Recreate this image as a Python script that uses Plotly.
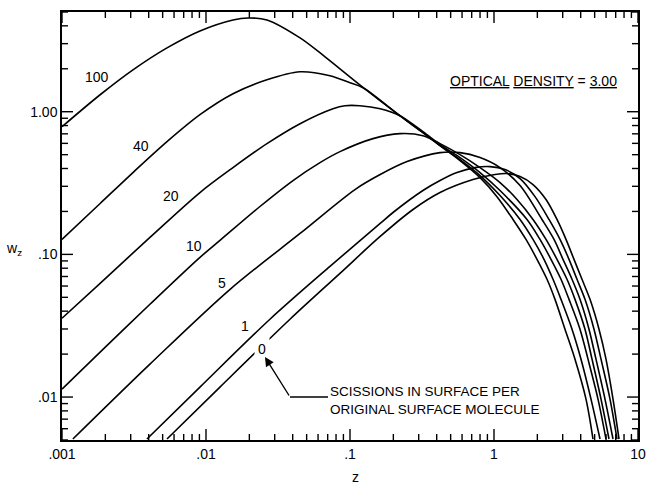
import plotly.graph_objects as go

# ---- data (z, w_z) ----
labels = ["100", "40", "20", "10", "5", "1", "0"]

z_100 = [0.001, 0.00184, 0.00311, 0.00536, 0.00908, 0.0154, 0.0196, 0.0265, 0.0450, 0.0671, 0.117, 0.222,
         0.321, 0.422, 0.581, 0.800, 1.049, 1.355, 1.668, 1.989, 2.334, 2.652, 3.112, 3.652, 4.354, 4.870]
w_100 = [0.785, 1.315, 1.966, 2.803, 3.685, 4.400, 4.543, 4.400, 3.292, 2.425, 1.544, 0.938,
         0.713, 0.578, 0.454, 0.345, 0.254, 0.1757, 0.1273, 0.0923, 0.0669, 0.0484, 0.0299, 0.01843, 0.00968, 0.00508]

z_40 = [0.001, 0.00184, 0.00311, 0.00536, 0.00908, 0.0154, 0.0265, 0.0450, 0.0726, 0.100, 0.123, 0.222,
        0.321, 0.422, 0.581, 0.800, 1.101, 1.517, 1.866, 2.224, 2.569, 2.919, 3.481, 4.020, 4.717, 5.446]
w_40 = [0.1273, 0.2273, 0.3746, 0.6168, 0.953, 1.336, 1.674, 1.905, 1.785, 1.595, 1.472, 0.938,
        0.713, 0.578, 0.4616, 0.3568, 0.2586, 0.1757, 0.1273, 0.0923, 0.0669, 0.0484, 0.0299, 0.01843, 0.00968, 0.00508]

z_20 = [0.001, 0.00184, 0.00408, 0.00908, 0.0154, 0.0265, 0.0450, 0.0762, 0.0923, 0.117, 0.162, 0.222,
        0.321, 0.422, 0.581, 0.800, 1.101, 1.695, 2.086, 2.488, 2.919, 3.318, 3.956, 4.496, 5.275, 5.995]
w_20 = [0.03568, 0.0627, 0.1315, 0.2714, 0.4059, 0.5974, 0.8243, 1.0495, 1.1016, 1.1016, 1.0495, 0.938,
        0.7245, 0.5876, 0.4769, 0.3746, 0.2803, 0.1757, 0.1273, 0.0923, 0.0669, 0.0484, 0.0299, 0.01843, 0.00968, 0.00508]

z_10 = [0.001, 0.00184, 0.00408, 0.00908, 0.0125, 0.0237, 0.0402, 0.0619, 0.0852, 0.1445, 0.222, 0.321,
        0.422, 0.581, 0.800, 1.101, 1.445, 1.866, 2.297, 2.738, 3.213, 3.652, 4.284, 4.793, 5.535, 6.290]
w_10 = [0.01137, 0.02064, 0.0447, 0.0953, 0.1253, 0.2166, 0.3293, 0.4397, 0.5251, 0.6476, 0.7018, 0.6794,
        0.5974, 0.5003, 0.4059, 0.3188, 0.2424, 0.1757, 0.1273, 0.0923, 0.0669, 0.0484, 0.0299, 0.01843, 0.00968, 0.00508]

z_5 = [0.00119, 0.00408, 0.0147, 0.0450, 0.1083, 0.162, 0.249, 0.422, 0.581, 0.800, 1.101, 1.517,
       2.154, 2.610, 3.014, 3.481, 3.956, 4.568, 5.109, 5.899, 6.706]
w_5 = [0.00508, 0.01701, 0.0569, 0.1402, 0.2848, 0.3626, 0.4470, 0.5168, 0.5168, 0.4769, 0.4059, 0.3038,
       0.1757, 0.1273, 0.0923, 0.0669, 0.0484, 0.0299, 0.01843, 0.00968, 0.00508]

z_1 = [0.00389, 0.00908, 0.0278, 0.0726, 0.162, 0.199, 0.321, 0.422, 0.553, 0.738, 0.938, 1.192,
       1.517, 1.927, 2.410, 2.873, 3.318, 3.770, 4.284, 4.948, 5.535, 6.391, 7.149]
w_1 = [0.00508, 0.01175, 0.03511, 0.0824, 0.1647, 0.1966, 0.2803, 0.3293, 0.3746, 0.4059, 0.4124, 0.3930,
       0.3400, 0.254, 0.1757, 0.1273, 0.0923, 0.0669, 0.0484, 0.0299, 0.01843, 0.00968, 0.00508]

z_0 = [0.00536, 0.0125, 0.0383, 0.0852, 0.162, 0.274, 0.422, 0.715, 1.016, 1.231, 1.517, 1.866,
       2.297, 2.738, 3.162, 3.594, 4.084, 4.642, 5.361, 5.995, 6.706, 7.382]
w_0 = [0.00508, 0.01175, 0.03511, 0.0736, 0.1336, 0.2064, 0.2714, 0.3346, 0.3626, 0.3686, 0.3511, 0.3087,
       0.2424, 0.1757, 0.1273, 0.0923, 0.0669, 0.0484, 0.0299, 0.01843, 0.00968, 0.00508]

x_tickvals = [0.001, 0.01, 0.1, 1, 10]
x_ticktext = [".001", ".01", ".1", "1", "10"]
y_tickvals = [0.01, 0.1, 1]
y_ticktext = [".01", ".10", "1.00"]
minor_mantissas = [2, 3, 4, 5, 6, 7, 8, 9]
x_decades = [0.001, 0.01, 0.1, 1]
y_decades = [0.001, 0.01, 0.1, 1]

series = [(z_100, w_100), (z_40, w_40), (z_20, w_20), (z_10, w_10), (z_5, w_5), (z_1, w_1), (z_0, w_0)]

FONT = "Liberation Sans, Arial, sans-serif"
X_RANGE = [-3, 1]
Y_RANGE = [-2.30103, 0.69897]

L, R, T, B = 62, 9, 12, 44
W, H = 647, 484
PW, PH = W - L - R, H - T - B

fig = go.Figure()
for lab, (zs, ws) in zip(labels, series):
    fig.add_trace(go.Scatter(x=zs, y=ws, mode="lines", name=lab,
                             line=dict(color="black", width=1.6, shape="spline", smoothing=0.9),
                             showlegend=False, hoverinfo="skip"))

# ---- inside tick marks on all four sides, built from the tick values and axis ranges ----
x_minor = [m * d for d in x_decades for m in minor_mantissas]
y_minor = [m * d for d in y_decades for m in minor_mantissas]
x_lo, x_hi = 10 ** X_RANGE[0], 10 ** X_RANGE[1]
y_lo, y_hi = 10 ** Y_RANGE[0], 10 ** Y_RANGE[1]
x_dec_per_px = (X_RANGE[1] - X_RANGE[0]) / PW
y_dec_per_px = (Y_RANGE[1] - Y_RANGE[0]) / PH
tx, ty = [], []
for v, ln in [(v, 11) for v in x_tickvals] + [(v, 6) for v in x_minor]:
    f = 10 ** (ln * y_dec_per_px)
    tx += [v, v, None, v, v, None]
    ty += [y_lo, y_lo * f, None, y_hi, y_hi / f, None]
for v, ln in [(v, 11) for v in y_tickvals] + [(v, 6) for v in y_minor]:
    f = 10 ** (ln * x_dec_per_px)
    tx += [x_lo, x_lo * f, None, x_hi, x_hi / f, None]
    ty += [v, v, None, v, v, None]
fig.add_trace(go.Scatter(x=tx, y=ty, mode="lines", line=dict(color="black", width=1.4),
                         connectgaps=False, showlegend=False, hoverinfo="skip"))

base = dict(type="log", showgrid=False, zeroline=False, showline=True, linecolor="black",
            linewidth=1.5, mirror=True, ticks="", automargin=False,
            tickfont=dict(family=FONT, size=14, color="black"))

fig.update_layout(
    xaxis=dict(range=X_RANGE, tickmode="array", tickvals=x_tickvals, ticktext=x_ticktext, **base),
    yaxis=dict(range=Y_RANGE, tickmode="array", tickvals=y_tickvals, ticktext=y_ticktext, **base),
)


def px(x):
    return (x - L) / PW


def py(y):
    return (H - B - y) / PH


shapes = [dict(type="line", xref="paper", yref="paper", x0=px(290), x1=px(328), y0=py(397), y1=py(397),
               line=dict(color="black", width=1.4))]

ann = []
label_pos = {"100": (97, 77), "40": (141, 146), "20": (171, 196), "10": (194, 246),
             "5": (222, 283), "1": (245, 326), "0": (262, 349)}
for lab, (x, y) in label_pos.items():
    a = dict(text=lab, x=px(x), y=py(y), xref="paper", yref="paper", xanchor="center", yanchor="middle",
             showarrow=False, font=dict(family=FONT, size=14, color="black"))
    if lab == "0":
        a.update(bgcolor="white", borderpad=3)
    ann.append(a)

ann.append(dict(text="<u>OPTICAL</u> <u>DENSITY</u> = <u>3.00</u>", x=px(533), y=py(81),
                xref="paper", yref="paper", xanchor="center", yanchor="middle", showarrow=False,
                font=dict(family=FONT, size=14, color="black")))
ann.append(dict(text="SCISSIONS IN SURFACE PER<br>ORIGINAL SURFACE MOLECULE", x=px(328), y=py(400),
                xref="paper", yref="paper", xanchor="left", yanchor="middle", align="left",
                showarrow=False, font=dict(family=FONT, size=13.5, color="black")))
ann.append(dict(text="", x=px(265), y=py(357), xref="paper", yref="paper", showarrow=True,
                ax=25, ay=40, arrowhead=2, arrowsize=1.3, arrowwidth=1.4, arrowcolor="black"))
ann.append(dict(text="z", x=px(355), y=py(477), xref="paper", yref="paper", xanchor="center",
                yanchor="middle", showarrow=False, font=dict(family=FONT, size=14, color="black")))
ann.append(dict(text="w<sub>z</sub>", x=px(14), y=py(249), xref="paper", yref="paper", xanchor="center",
                yanchor="middle", showarrow=False, font=dict(family=FONT, size=14, color="black")))

fig.update_layout(
    width=W, height=H, margin=dict(l=L, r=R, t=T, b=B, autoexpand=False),
    paper_bgcolor="white", plot_bgcolor="white",
    annotations=ann, shapes=shapes,
)

fig.write_html("out.html")
